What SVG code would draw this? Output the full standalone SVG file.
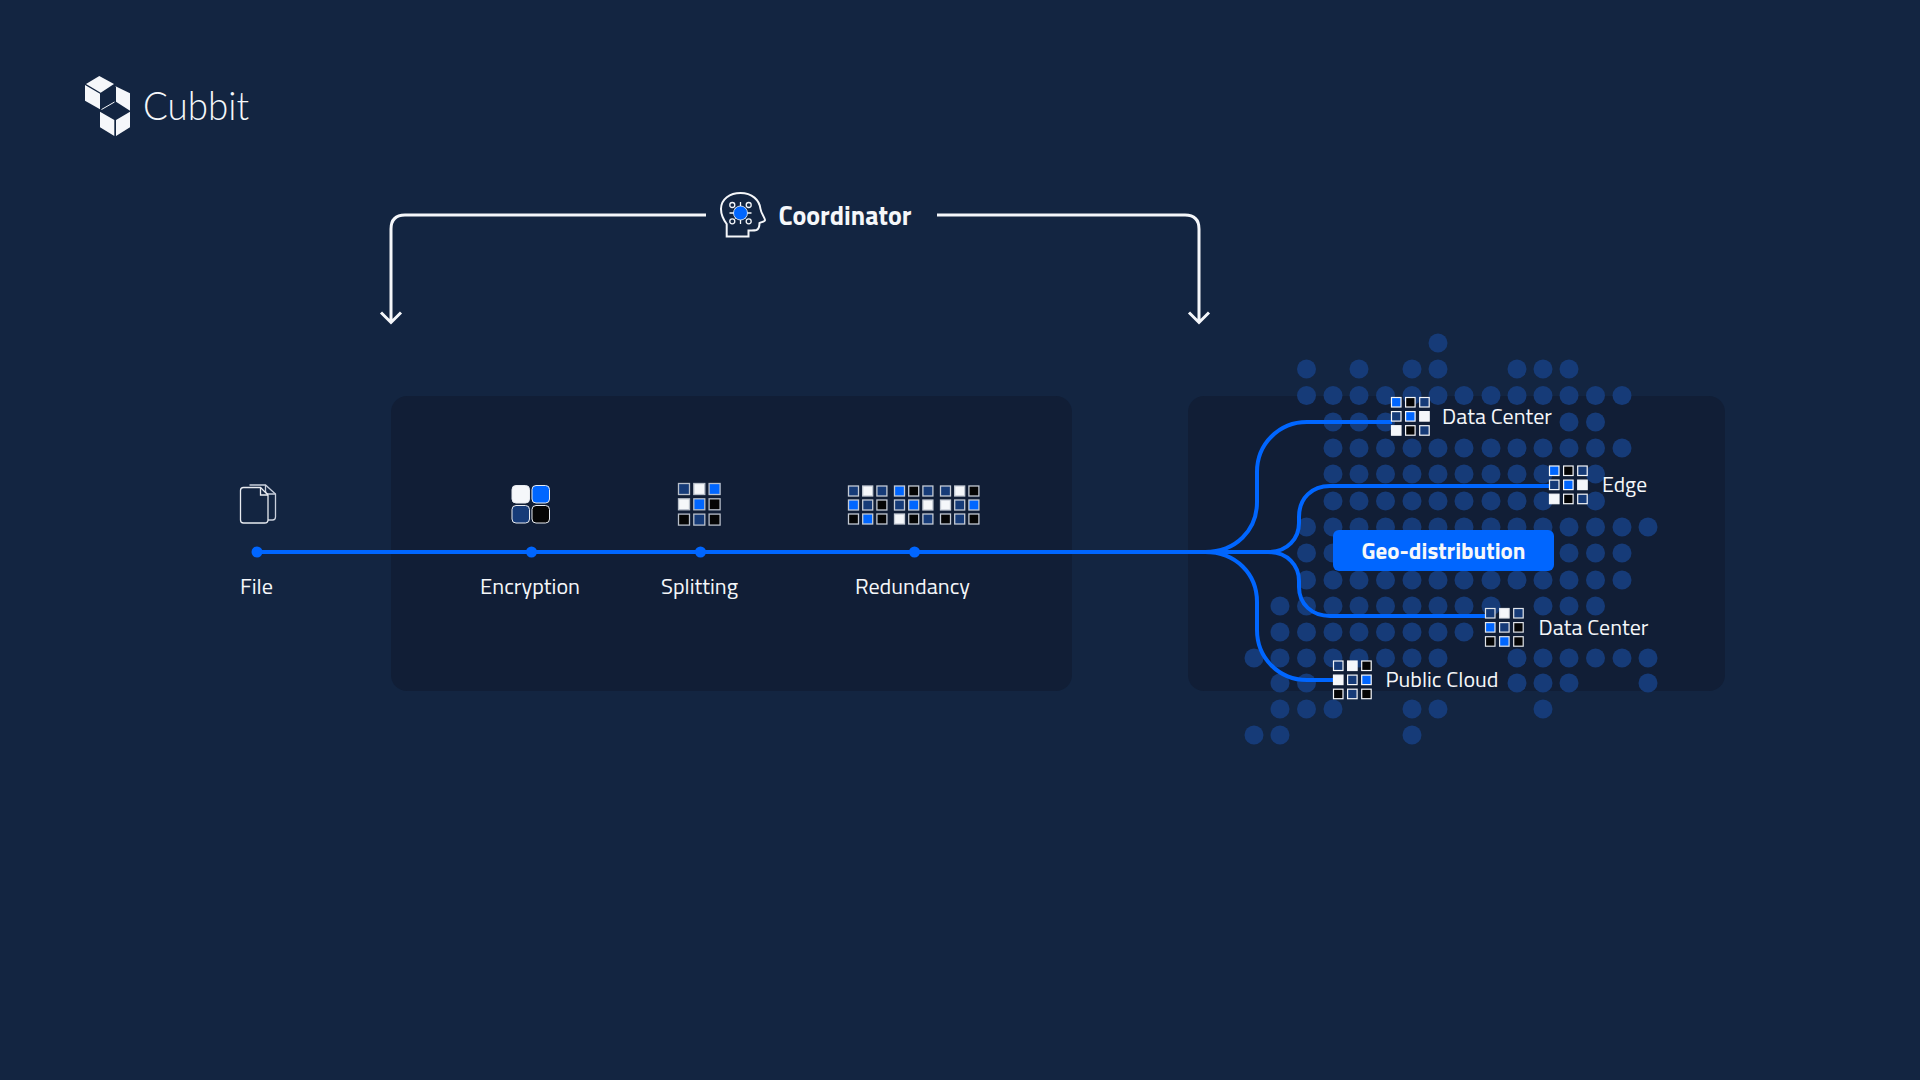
<svg xmlns="http://www.w3.org/2000/svg" width="1920" height="1080" viewBox="0 0 1920 1080">
<style>
text{font-family:"Titillium Web",Roboto,"Liberation Sans",sans-serif;fill:#f5f7fa;font-size:22px;font-weight:400}
.d{fill:#163b78}
.conn{fill:none;stroke:#0066ff;stroke-width:4}
.w{fill:none;stroke:#f5f7fa;stroke-width:3}
.s{stroke:#e8ebf0;stroke-width:1}
.B{fill:#0066ff}.K{fill:#050505}.N{fill:#163b78}.W{fill:#f5f7fa}
.jn{fill:#0066ff}
</style>
<defs>
<circle id="o" class="d" r="9.5"/>
</defs>
<rect width="1920" height="1080" fill="#132541"/>
<g id="logo">
<path fill="#f5f7fa" d="M99.300 76 114 84 100.700 92.700 86 84Z M85 85 100 93.800V109.300L85 100.700Z M115 86 130 93.300V110.700L116 101.700V86Z M100 111.700 114.300 120V136L100 127.300Z M116 120 130 111.700V127.300L116 136Z"/>
<path stroke="#f5f7fa" stroke-width="1" d="M101.500 109.500 114.500 102"/>
<text x="143" y="119.500" style="font-size:39px;font-family:Lato,sans-serif;font-weight:300" textLength="106" lengthAdjust="spacingAndGlyphs">Cubbit</text>
</g>
<rect id="panel-left" x="391" y="396" width="681" height="295" rx="16" fill="#111e36"/>
<rect id="panel-right" x="1188" y="396" width="537" height="295" rx="16" fill="#111e36"/>
<g id="dots">
<g transform="translate(1254 343)">
<use href="#o" x="184"/>
<use href="#o" x="52.500" y="26"/><use href="#o" x="105" y="26"/><use href="#o" x="158" y="26"/><use href="#o" x="184" y="26"/><use href="#o" x="263" y="26"/><use href="#o" x="289" y="26"/><use href="#o" x="315" y="26"/>
<use href="#o" x="52.500" y="52.500"/><use href="#o" x="79" y="52.500"/><use href="#o" x="105" y="52.500"/><use href="#o" x="131.500" y="52.500"/><use href="#o" x="158" y="52.500"/><use href="#o" x="184" y="52.500"/><use href="#o" x="210" y="52.500"/><use href="#o" x="237" y="52.500"/><use href="#o" x="263" y="52.500"/><use href="#o" x="289" y="52.500"/><use href="#o" x="315" y="52.500"/><use href="#o" x="341.500" y="52.500"/><use href="#o" x="368" y="52.500"/>
<use href="#o" x="79" y="79"/><use href="#o" x="105" y="79"/><use href="#o" x="131.500" y="79"/><use href="#o" x="315" y="79"/><use href="#o" x="341.500" y="79"/>
<use href="#o" x="79" y="105"/><use href="#o" x="105" y="105"/><use href="#o" x="131.500" y="105"/><use href="#o" x="158" y="105"/><use href="#o" x="184" y="105"/><use href="#o" x="210" y="105"/><use href="#o" x="237" y="105"/><use href="#o" x="263" y="105"/><use href="#o" x="289" y="105"/><use href="#o" x="315" y="105"/><use href="#o" x="341.500" y="105"/><use href="#o" x="368" y="105"/>
<use href="#o" x="79" y="131"/><use href="#o" x="105" y="131"/><use href="#o" x="131.500" y="131"/><use href="#o" x="158" y="131"/><use href="#o" x="184" y="131"/><use href="#o" x="210" y="131"/><use href="#o" x="237" y="131"/><use href="#o" x="263" y="131"/><use href="#o" x="289" y="131"/><use href="#o" x="341.500" y="131"/>
<use href="#o" x="79" y="158"/><use href="#o" x="105" y="158"/><use href="#o" x="131.500" y="158"/><use href="#o" x="158" y="158"/><use href="#o" x="184" y="158"/><use href="#o" x="210" y="158"/><use href="#o" x="237" y="158"/><use href="#o" x="263" y="158"/><use href="#o" x="289" y="158"/><use href="#o" x="341.500" y="158"/>
<use href="#o" x="52.500" y="184"/><use href="#o" x="79" y="184"/><use href="#o" x="105" y="184"/><use href="#o" x="131.500" y="184"/><use href="#o" x="158" y="184"/><use href="#o" x="184" y="184"/><use href="#o" x="210" y="184"/><use href="#o" x="237" y="184"/><use href="#o" x="263" y="184"/><use href="#o" x="289" y="184"/><use href="#o" x="315" y="184"/><use href="#o" x="341.500" y="184"/><use href="#o" x="368" y="184"/><use href="#o" x="394" y="184"/>
<use href="#o" x="52.500" y="210"/><use href="#o" x="79" y="210"/><use href="#o" x="315" y="210"/><use href="#o" x="341.500" y="210"/><use href="#o" x="368" y="210"/>
<use href="#o" x="52.500" y="237"/><use href="#o" x="79" y="237"/><use href="#o" x="105" y="237"/><use href="#o" x="131.500" y="237"/><use href="#o" x="158" y="237"/><use href="#o" x="184" y="237"/><use href="#o" x="210" y="237"/><use href="#o" x="237" y="237"/><use href="#o" x="263" y="237"/><use href="#o" x="289" y="237"/><use href="#o" x="315" y="237"/><use href="#o" x="341.500" y="237"/><use href="#o" x="368" y="237"/>
<use href="#o" x="26" y="263"/><use href="#o" x="52.500" y="263"/><use href="#o" x="79" y="263"/><use href="#o" x="105" y="263"/><use href="#o" x="131.500" y="263"/><use href="#o" x="158" y="263"/><use href="#o" x="184" y="263"/><use href="#o" x="210" y="263"/><use href="#o" x="237" y="263"/><use href="#o" x="289" y="263"/><use href="#o" x="315" y="263"/><use href="#o" x="341.500" y="263"/>
<use href="#o" x="26" y="289"/><use href="#o" x="52.500" y="289"/><use href="#o" x="79" y="289"/><use href="#o" x="105" y="289"/><use href="#o" x="131.500" y="289"/><use href="#o" x="158" y="289"/><use href="#o" x="184" y="289"/><use href="#o" x="210" y="289"/>
<use href="#o" y="315"/><use href="#o" x="26" y="315"/><use href="#o" x="52.500" y="315"/><use href="#o" x="79" y="315"/><use href="#o" x="105" y="315"/><use href="#o" x="131.500" y="315"/><use href="#o" x="158" y="315"/><use href="#o" x="184" y="315"/><use href="#o" x="263" y="315"/><use href="#o" x="289" y="315"/><use href="#o" x="315" y="315"/><use href="#o" x="341.500" y="315"/><use href="#o" x="368" y="315"/><use href="#o" x="394" y="315"/>
<use href="#o" x="26" y="340"/><use href="#o" x="52.500" y="340"/><use href="#o" x="263" y="340"/><use href="#o" x="289" y="340"/><use href="#o" x="315" y="340"/><use href="#o" x="394" y="340"/>
<use href="#o" x="26" y="366"/><use href="#o" x="52.500" y="366"/><use href="#o" x="79" y="366"/><use href="#o" x="158" y="366"/><use href="#o" x="184" y="366"/><use href="#o" x="289" y="366"/>
<use href="#o" y="392"/><use href="#o" x="26" y="392"/><use href="#o" x="158" y="392"/>
</g>
</g>
<g id="connectors">
<path class="w" d="M706 215H405Q391 215 391 229V322M381 312.500 391 322.500 401 312.500"/>
<path class="w" d="M937 215H1185Q1199 215 1199 229V322M1189 312.500 1199 322.500 1209 312.500"/>
<path class="conn" d="M257 552H1270"/>
<path class="conn" d="M1205 552C1236 552 1257 530 1257 502V472C1257 444 1279 422 1307 422H1392"/>
<path class="conn" d="M1268 552C1288 552 1299 538 1299 523V517C1299 498 1312 486 1330 486H1550"/>
<path class="conn" d="M1268 552C1288 552 1299 566 1299 581V587C1299 604 1312 616 1330 616H1486"/>
<path class="conn" d="M1205 552C1236 552 1257 574 1257 602V630C1257 658 1279 680 1307 680H1334"/>
<circle class="jn" cx="257" cy="552" r="5.500"/><circle class="jn" cx="531.500" cy="552" r="5.500"/><circle class="jn" cx="700.500" cy="552" r="5.500"/><circle class="jn" cx="914.500" cy="552" r="5.500"/>
</g>
<g id="file">
<path fill="none" stroke="#c9d0dc" stroke-width="1.300" d="M249.500 485H265.500L275.500 494V517Q275.500 520 272.500 520H267.500"/>
<path fill="none" stroke="#c9d0dc" stroke-width="1.300" d="M265.500 485V491Q265.500 494 268.500 494H275.500"/>
<path fill="#132541" stroke="#e8ebf0" stroke-width="1.300" d="M243.500 487.500H260.500L268 495V520Q268 523 264.500 523H243.500Q240.500 523 240.500 520V490.500Q240.500 487.500 243.500 487.500Z"/>
<path fill="none" stroke="#e8ebf0" stroke-width="1.300" d="M260.500 487.500V495H268"/>
<text x="256.500" y="594" text-anchor="middle" textLength="33" lengthAdjust="spacingAndGlyphs">File</text>
</g>
<g id="encryption">
<rect class="W s" x="512" y="485.500" width="17.500" height="17.500" rx="4"/>
<rect class="B s" x="532" y="485.500" width="17.500" height="17.500" rx="4"/>
<rect class="N s" x="512" y="505.500" width="17.500" height="17.500" rx="4"/>
<rect class="K s" x="532" y="505.500" width="17.500" height="17.500" rx="4"/>
<text x="530" y="594" text-anchor="middle" textLength="100" lengthAdjust="spacingAndGlyphs">Encryption</text>
</g>
<g id="splitting">
<g transform="translate(678.500 483.500)" stroke="#b8bfca" stroke-width="1.300">
<rect class="N" width="11" height="11"/><rect class="W" x="15.300" width="11" height="11"/><rect class="B" x="30.600" width="11" height="11"/>
<rect class="W" y="15.300" width="11" height="11"/><rect class="B" x="15.300" y="15.300" width="11" height="11"/><rect class="K" x="30.600" y="15.300" width="11" height="11"/>
<rect class="K" y="30.600" width="11" height="11"/><rect class="N" x="15.300" y="30.600" width="11" height="11"/><rect class="K" x="30.600" y="30.600" width="11" height="11"/>
</g>
<text x="699.500" y="594" text-anchor="middle" textLength="77" lengthAdjust="spacingAndGlyphs">Splitting</text>
</g>
<g id="redundancy">
<g transform="translate(848.500 486)" stroke="#c4cad4" stroke-width="1.300">
<rect class="N" width="10" height="10"/><rect class="W" x="14.200" width="10" height="10"/><rect class="N" x="28.400" width="10" height="10"/>
<rect class="B" y="14" width="10" height="10"/><rect class="N" x="14.200" y="14" width="10" height="10"/><rect class="K" x="28.400" y="14" width="10" height="10"/>
<rect class="K" y="28" width="10" height="10"/><rect class="B" x="14.200" y="28" width="10" height="10"/><rect class="K" x="28.400" y="28" width="10" height="10"/>
</g>
<g transform="translate(894.500 486)" stroke="#c4cad4" stroke-width="1.300">
<rect class="B" width="10" height="10"/><rect class="K" x="14.200" width="10" height="10"/><rect class="N" x="28.400" width="10" height="10"/>
<rect class="N" y="14" width="10" height="10"/><rect class="B" x="14.200" y="14" width="10" height="10"/><rect class="W" x="28.400" y="14" width="10" height="10"/>
<rect class="W" y="28" width="10" height="10"/><rect class="K" x="14.200" y="28" width="10" height="10"/><rect class="N" x="28.400" y="28" width="10" height="10"/>
</g>
<g transform="translate(940.500 486)" stroke="#c4cad4" stroke-width="1.300">
<rect class="N" width="10" height="10"/><rect class="W" x="14.200" width="10" height="10"/><rect class="K" x="28.400" width="10" height="10"/>
<rect class="W" y="14" width="10" height="10"/><rect class="N" x="14.200" y="14" width="10" height="10"/><rect class="B" x="28.400" y="14" width="10" height="10"/>
<rect class="K" y="28" width="10" height="10"/><rect class="N" x="14.200" y="28" width="10" height="10"/><rect class="K" x="28.400" y="28" width="10" height="10"/>
</g>
<text x="912.500" y="594" text-anchor="middle" textLength="115" lengthAdjust="spacingAndGlyphs">Redundancy</text>
</g>
<g id="coordinator">
<path fill="none" stroke="#f5f7fa" stroke-width="2" d="M726.700 236.500V224C723 219 721 214 721 209C721 199 730 193 740.500 193C752 193 759.500 200 760.500 209C761 213 765 218 765 220C765 221.800 761 222 759.500 223C759.500 226 759 229 756.500 230C754 230.800 751 230.500 748.500 230.500V236.500Z"/>
<g stroke="#f5f7fa" stroke-width="1.300" fill="none">
<path d="M735 208 745.500 218.500M745.500 208 735 218.500M740.500 202V224M729.500 213H751.500"/>
<circle cx="732.300" cy="205" r="2.500" fill="#132541"/><circle cx="748.700" cy="205" r="2.500" fill="#132541"/><circle cx="732.300" cy="221.300" r="2.500" fill="#132541"/><circle cx="748.700" cy="221.300" r="2.500" fill="#132541"/>
</g>
<circle cx="740.500" cy="213" r="7" fill="#0066ff" stroke="#f5f7fa" stroke-width="0.800"/>
<text x="778.500" y="224.500" style="font-size:27px;font-weight:700" textLength="133" lengthAdjust="spacingAndGlyphs">Coordinator</text>
</g>
<g id="geo">
<rect x="1333" y="530" width="221" height="41" rx="6" fill="#0066ff"/>
<text x="1443.500" y="559" text-anchor="middle" style="font-size:23px;font-weight:700" textLength="164" lengthAdjust="spacingAndGlyphs">Geo-distribution</text>
</g>
<g id="dc1">
<g transform="translate(1391.500 397.500)" stroke="#f5f7fa" stroke-width="1.200">
<rect class="B" width="9.500" height="9.500"/><rect class="K" x="14.100" width="9.500" height="9.500"/><rect class="N" x="28.200" width="9.500" height="9.500"/>
<rect class="N" y="14.100" width="9.500" height="9.500"/><rect class="B" x="14.100" y="14.100" width="9.500" height="9.500"/><rect class="W" x="28.200" y="14.100" width="9.500" height="9.500"/>
<rect class="W" y="28.200" width="9.500" height="9.500"/><rect class="K" x="14.100" y="28.200" width="9.500" height="9.500"/><rect class="N" x="28.200" y="28.200" width="9.500" height="9.500"/>
</g>
<text x="1442" y="424" textLength="110" lengthAdjust="spacingAndGlyphs">Data Center</text>
</g>
<g id="edge">
<g transform="translate(1549.500 466)" stroke="#f5f7fa" stroke-width="1.200">
<rect class="B" width="9.500" height="9.500"/><rect class="K" x="14.100" width="9.500" height="9.500"/><rect class="N" x="28.200" width="9.500" height="9.500"/>
<rect class="N" y="14.100" width="9.500" height="9.500"/><rect class="B" x="14.100" y="14.100" width="9.500" height="9.500"/><rect class="W" x="28.200" y="14.100" width="9.500" height="9.500"/>
<rect class="W" y="28.200" width="9.500" height="9.500"/><rect class="K" x="14.100" y="28.200" width="9.500" height="9.500"/><rect class="N" x="28.200" y="28.200" width="9.500" height="9.500"/>
</g>
<text x="1602" y="492" textLength="45" lengthAdjust="spacingAndGlyphs">Edge</text>
</g>
<g id="dc2">
<g transform="translate(1485.500 608.500)" stroke="#e2e5ea" stroke-width="1.200">
<rect class="N" width="9.500" height="9.500"/><rect class="W" x="14.100" width="9.500" height="9.500"/><rect class="N" x="28.200" width="9.500" height="9.500"/>
<rect class="B" y="14.100" width="9.500" height="9.500"/><rect class="N" x="14.100" y="14.100" width="9.500" height="9.500"/><rect class="K" x="28.200" y="14.100" width="9.500" height="9.500"/>
<rect class="K" y="28.200" width="9.500" height="9.500"/><rect class="B" x="14.100" y="28.200" width="9.500" height="9.500"/><rect class="K" x="28.200" y="28.200" width="9.500" height="9.500"/>
</g>
<text x="1538.500" y="635" textLength="110" lengthAdjust="spacingAndGlyphs">Data Center</text>
</g>
<g id="cloud">
<g transform="translate(1333.500 661)" stroke="#f5f7fa" stroke-width="1.200">
<rect class="N" width="9.500" height="9.500"/><rect class="W" x="14.100" width="9.500" height="9.500"/><rect class="K" x="28.200" width="9.500" height="9.500"/>
<rect class="W" y="14.100" width="9.500" height="9.500"/><rect class="N" x="14.100" y="14.100" width="9.500" height="9.500"/><rect class="B" x="28.200" y="14.100" width="9.500" height="9.500"/>
<rect class="K" y="28.200" width="9.500" height="9.500"/><rect class="N" x="14.100" y="28.200" width="9.500" height="9.500"/><rect class="K" x="28.200" y="28.200" width="9.500" height="9.500"/>
</g>
<text x="1385.500" y="687" textLength="113" lengthAdjust="spacingAndGlyphs">Public Cloud</text>
</g>
</svg>
